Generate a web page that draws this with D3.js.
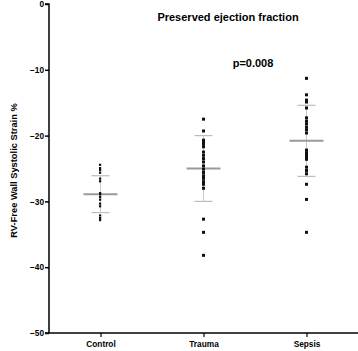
<!DOCTYPE html>
<html>
<head>
<meta charset="utf-8">
<script src="https://cdn.jsdelivr.net/npm/d3@7"></script>
<style>
  body { margin: 0; background: #fff; }
  svg text { font-family: "Liberation Sans", Arial, sans-serif; font-weight: bold; fill: #000; }
</style>
</head>
<body>
<div id="chart"></div>
<script>
// groups and values
var groups = ["Control", "Trauma", "Sepsis"];
var controlValues = [-24.5, -25.0, -25.3, -25.7, -26.6, -27.0, -28.8, -29.0, -29.4, -29.8, -30.4, -30.8, -32.2, -32.6, -32.9];
var traumaValues = [-17.5, -19.3, -20.7, -21.0, -21.3, -21.7, -22.5, -23.0, -23.5, -24.0, -24.6, -25.1, -25.6, -26.1, -26.5, -27.0, -27.4, -28.0, -32.7, -34.7, -38.2];
var sepsisValues = [-11.3, -13.8, -14.6, -14.9, -15.8, -17.3, -17.8, -18.2, -18.7, -19.1, -19.6, -22.2, -22.6, -22.9, -23.3, -23.6, -24.8, -25.3, -25.8, -27.4, -29.7, -34.7];
var groupMeans = [-28.9, -25.0, -20.8];
var groupSD = [2.8, 5.0, 5.4];
var yTicks = [0, -10, -20, -30, -40, -50];

var seriesValues = [controlValues, traumaValues, sepsisValues];

var margin = {top: 4, right: 0, bottom: 18, left: 49};
var W = 358, H = 351;

var svg = d3.select("#chart").append("svg")
    .attr("width", W)
    .attr("height", H);

// scales
var x = d3.scalePoint()
    .domain(groups)
    .range([margin.left, W - margin.right])
    .padding(0.5);
var y = d3.scaleLinear()
    .domain([-50, 0])
    .range([H - margin.bottom, margin.top]);

// error bars (mean +/- SD)
groups.forEach(function(g, i) {
    var cx = x(g);
    var m = groupMeans[i], s = groupSD[i];
    var grp = svg.append("g").attr("class", "errbar");
    grp.append("line")
        .attr("x1", cx).attr("x2", cx)
        .attr("y1", y(m + s)).attr("y2", y(m - s))
        .attr("stroke", "#c8c8c8").attr("stroke-width", 1);
    [m + s, m - s].forEach(function(v) {
        grp.append("line")
            .attr("x1", cx - 9).attr("x2", cx + 9)
            .attr("y1", y(v)).attr("y2", y(v))
            .attr("stroke", "#bdbdbd").attr("stroke-width", 1.2);
    });
    grp.append("line")
        .attr("x1", cx - 17).attr("x2", cx + 17)
        .attr("y1", y(m)).attr("y2", y(m))
        .attr("stroke", "#9a9a9a").attr("stroke-width", 2);
});

// points
groups.forEach(function(g, i) {
    svg.append("g").selectAll("rect")
        .data(seriesValues[i])
        .enter()
        .append("rect")
        .attr("x", x(g) - 1.5)
        .attr("y", d => y(d) - 1.5)
        .attr("width", i == 0 ? 2.2 : 3)
        .attr("height", i == 0 ? 2.2 : 3)
        .attr("fill", "#111");
});

// axes
var yAxis = d3.axisLeft(y).tickValues(yTicks).tickSize(4).tickFormat(d3.format("d"));
var xAxis = d3.axisBottom(x).tickSize(4).tickSizeOuter(0);

var gy = svg.append("g")
    .attr("transform", "translate(" + margin.left + ",0)")
    .call(yAxis);
gy.select(".domain").attr("stroke-width", 1.5).attr("d", "M-4," + y(0) + "H0V" + y(-50));
gy.selectAll(".tick line").attr("stroke-width", 1.5);
gy.selectAll(".tick text").attr("font-size", 8.3).attr("x", -5);

var gx = svg.append("g")
    .attr("transform", "translate(0," + y(-50) + ")")
    .call(xAxis);
gx.select(".domain").attr("stroke-width", 1.5).attr("d", "M" + (margin.left - 4) + ",0H" + W);
gx.selectAll(".tick line").attr("stroke-width", 1.2);
gx.selectAll(".tick text").attr("font-size", 8.3).attr("y", 8);

// labels
svg.append("text")
    .attr("transform", "translate(17," + (y(-25) + 2) + ") rotate(-90)")
    .attr("text-anchor", "middle")
    .attr("font-size", 9.3)
    .text("RV-Free Wall Systolic Strain %");

svg.append("text")
    .attr("x", 228).attr("y", 21)
    .attr("text-anchor", "middle")
    .attr("font-size", 11)
    .text("Preserved ejection fraction");

svg.append("text")
    .attr("x", 253).attr("y", 67)
    .attr("text-anchor", "middle")
    .attr("font-size", 11)
    .text("p=0.008");
</script>
</body>
</html>
